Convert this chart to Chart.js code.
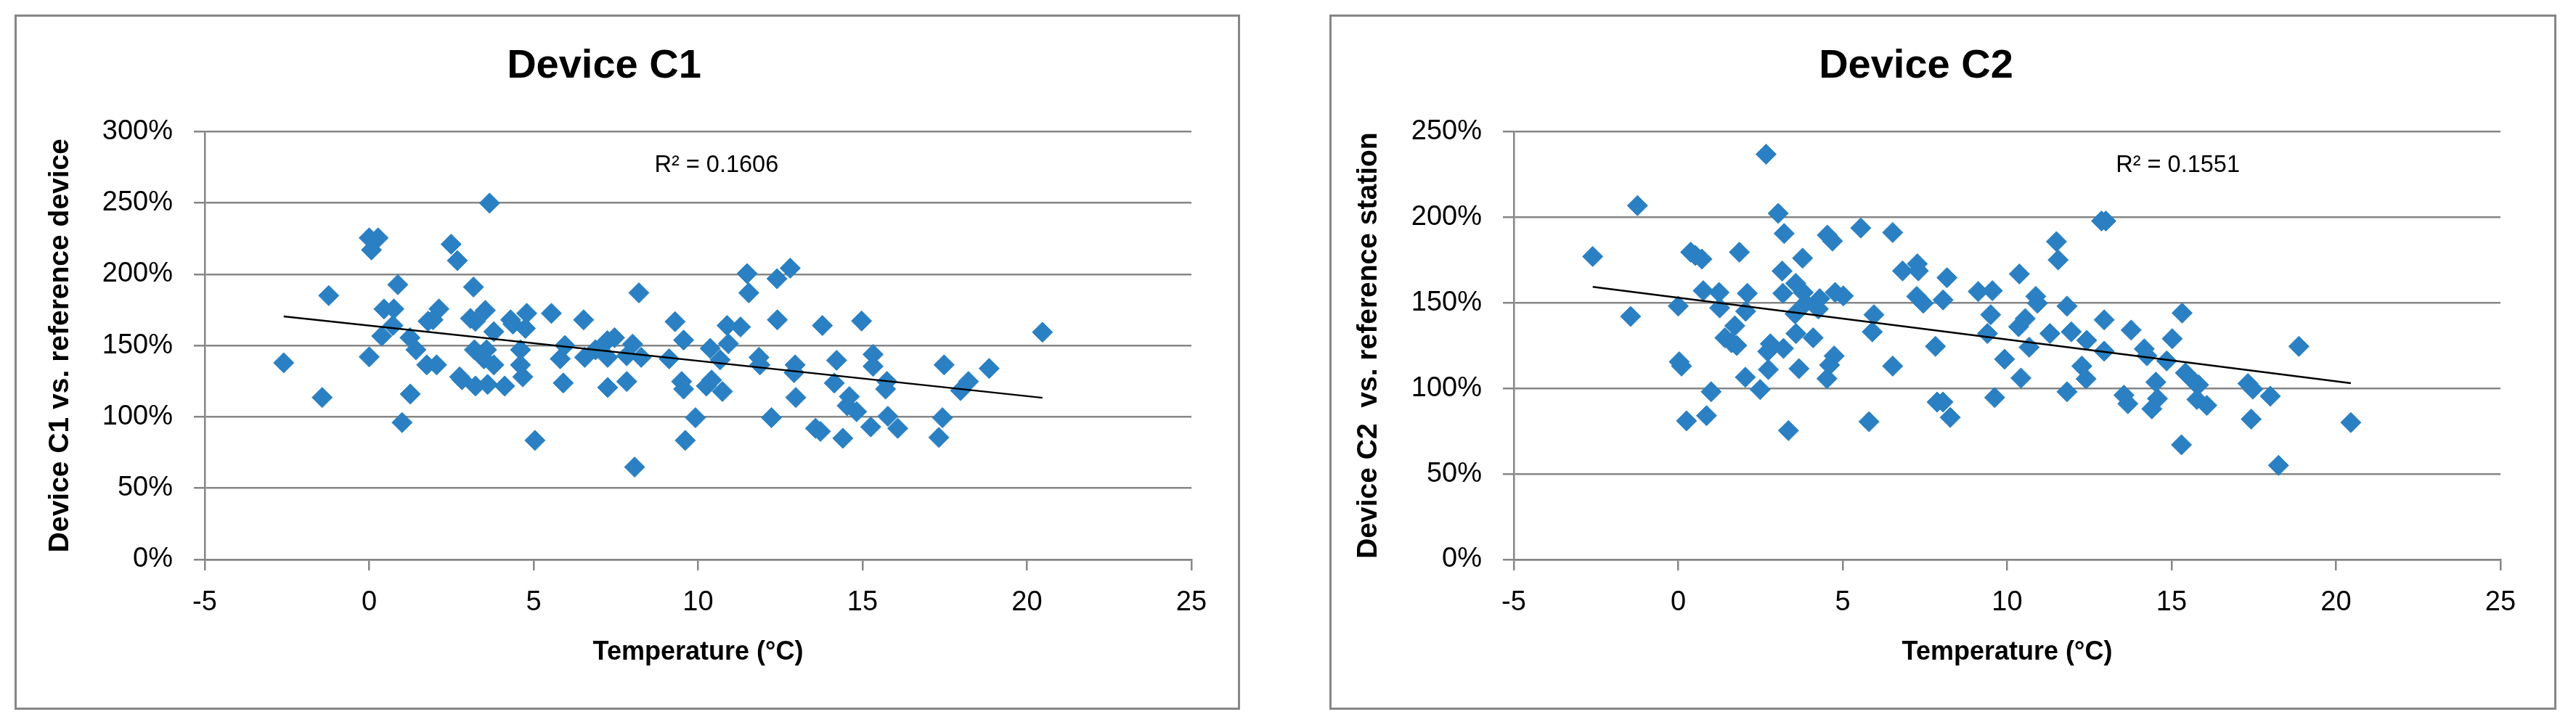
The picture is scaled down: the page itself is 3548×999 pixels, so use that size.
<!DOCTYPE html>
<html>
<head>
<meta charset="utf-8">
<script src="https://cdn.jsdelivr.net/npm/chart.js@4.4.1/dist/chart.umd.min.js"></script>
<style>
html, body { margin: 0; padding: 0; background: #ffffff; }
body { width: 3548px; height: 999px; position: relative; overflow: hidden; }
.frame { position: absolute; border: 3px solid #868686; box-sizing: border-box; background: #fff; }
.frame canvas { position: absolute; left: 0; top: 0; }
</style>
</head>
<body>
<div class="frame" style="left:20px;top:20px;width:1688px;height:958px;"><canvas id="c1" width="1682" height="952"></canvas></div>
<div class="frame" style="left:1831px;top:20px;width:1690px;height:958px;"><canvas id="c2" width="1684" height="952"></canvas></div>
<script>
// ---------------- Data ----------------
const xTicks = [-5, 0, 5, 10, 15, 20, 25];

const c1Title = 'Device C1';
const c1YTitle = 'Device C1 vs. reference device';
const c1R2 = 'R\u00B2 = 0.1606';
const c1Temp = [-2.6, -1.43, -1.23, 0.0, 0.0, 0.27, 0.07, 0.38, 0.45, 0.75,
  0.87, 0.72, 1.0, 1.24, 1.25, 1.42, 1.75, 1.79, 1.94, 2.05,
  2.12, 2.49, 2.68, 2.75, 2.82, 3.08, 3.17, 3.2, 3.23, 3.23,
  3.53, 3.49, 3.66, 3.6, 3.79, 3.79, 4.12, 4.3, 4.37, 4.6,
  4.6, 4.67, 4.75, 4.79, 3.57, 5.04, 5.54, 5.81, 5.9, 5.95,
  6.52, 6.55, 6.88, 7.24, 7.25, 7.46, 7.25, 7.83, 7.83, 8.01,
  8.07, 8.2, 8.27, 9.12, 9.3, 9.5, 9.56, 9.56, 9.61, 9.92,
  10.25, 10.37, 10.41, 10.67, 10.74, 10.88, 10.92, 11.29, 11.49, 11.54,
  11.85, 11.88, 12.23, 12.4, 12.41, 12.8, 12.92, 12.95, 12.97, 13.57,
  13.72, 13.78, 14.14, 14.21, 14.4, 14.53, 14.6, 14.82, 14.97, 15.25,
  15.32, 15.32, 15.7, 15.74, 15.77, 16.07, 17.32, 17.43, 17.48, 17.98,
  18.22, 18.85, 20.47];
const c1Ratio = [137.9, 113.6, 185, 142, 225.4, 225.4, 217, 156.6, 175.6, 175.6,
  192.6, 164, 96, 155.5, 116, 147, 136.4, 167, 168, 136.4,
  175.6, 221, 209.5, 128, 126, 169, 191, 147, 121.6, 167,
  174.6, 140.7, 249.8, 122.7, 136.4, 159.7, 121.6, 168, 165, 147,
  136.4, 128, 162, 172.5, 147, 83.5, 172.5, 140.7, 123.7, 150,
  168, 141.7, 147, 153.4, 141.7, 155.5, 120.6, 124.8, 142.8, 151,
  64.8, 186.9, 141.7, 140.7, 166.7, 124.8, 119.5, 153.8, 83.5, 99.4,
  121.6, 148, 125.8, 140, 117.8, 164, 151.3, 163, 200.4, 186.9,
  141.7, 136.4, 99.4, 196.8, 168, 204.2, 131, 136.4, 113.6, 92,
  89.8, 164, 123.7, 139.6, 85, 107.8, 114.2, 103.6, 167.2, 93,
  143.8, 135.4, 119.5, 124.8, 100.4, 92, 85.6, 99.4, 136.4, 118.4,
  124.8, 133.9, 159.3];
const c1YTicksMax = 300;

const c2Title = 'Device C2';
const c2YTitle = 'Device C2  vs. reference station';
const c2R2 = 'R\u00B2 = 0.1551';
const c2Temp = [-2.6, -1.45, -1.24, 0, 0.03, 0.1, 0.25, 0.38, 0.52, 0.72,
  0.76, 0.86, 1.0, 1.24, 1.26, 1.42, 1.62, 1.72, 1.78, 1.86,
  2.04, 2.05, 2.1, 2.49, 2.67, 2.72, 2.74, 2.8, 3.04, 3.16,
  3.18, 3.22, 3.2, 3.35, 3.55, 3.58, 3.57, 3.67, 3.78, 3.8,
  3.87, 4.1, 4.26, 4.3, 4.53, 4.52, 4.6, 4.69, 4.74, 4.77,
  5.02, 5.55, 5.8, 5.9, 5.95, 6.52, 6.52, 6.82, 7.27, 7.3,
  7.25, 7.45, 7.82, 7.87, 8.05, 8.05, 8.17, 8.27, 9.12, 9.4,
  9.5, 9.55, 9.62, 9.92, 10.35, 10.37, 10.42, 10.55, 10.67, 10.87,
  10.92, 11.3, 11.5, 11.55, 11.82, 11.82, 11.95, 12.27, 12.4, 12.42,
  12.87, 12.95, 13.0, 12.95, 13.55, 13.67, 13.77, 14.17, 14.25, 14.4,
  14.52, 14.57, 14.85, 15.02, 15.3, 15.32, 15.42, 15.7, 15.77, 15.82,
  16.07, 17.32, 17.42, 17.47, 18.0, 18.25, 18.87, 20.45];
const c2Ratio = [177, 142, 206.7, 148, 115.5, 113, 81, 179.5, 177.6, 175.5,
  157, 84, 98, 156, 147, 129.5, 126.6, 136.5, 125, 179.5,
  106.5, 145, 155.5, 99.3, 236.7, 121.5, 111, 126, 202.2, 168.5,
  155.5, 190.4, 123.3, 75.3, 143.5, 132, 161.3, 111.5, 176, 156,
  149.7, 129.5, 146.3, 152.4, 189.5, 105.7, 113.6, 186, 118.9, 156,
  154, 193.6, 80.5, 133, 143, 191, 113, 168.6, 172.7, 168.6,
  153.7, 149.7, 124.5, 92, 92, 151.6, 164.6, 83, 156.5, 132,
  143, 157, 94.6, 117, 136, 166.8, 106, 140.7, 124, 153.7,
  149.7, 132, 185.7, 175, 148, 98, 133, 113, 105.5, 128,
  197.7, 121.7, 197.7, 140, 96, 91, 134, 123, 119, 88,
  103.6, 94, 116, 129, 67, 144, 109, 103.6, 93.5, 102,
  90, 102.8, 82, 99.5, 95.4, 55, 124.5, 80];
const c2YTicksMax = 250;

const xTitle = 'Temperature (\u00B0C)';

// ---------------- Helpers ----------------
function linearFit(xs, ys) {
  const n = xs.length;
  let sx = 0, sy = 0, sxx = 0, sxy = 0;
  for (let i = 0; i < n; i++) { sx += xs[i]; sy += ys[i]; sxx += xs[i] * xs[i]; sxy += xs[i] * ys[i]; }
  const b = (n * sxy - sx * sy) / (n * sxx - sx * sx);
  const a = (sy - b * sx) / n;
  return { a, b };
}

const FONT = "'Liberation Sans', Arial, sans-serif";
const GRID = '#868686';
const BLUE = '#2a80c2';

const r2Plugin = {
  id: 'r2label',
  afterDatasetsDraw(chart, args, opts) {
    const ctx = chart.ctx;
    const x = chart.scales.x.getPixelForValue(opts.xv);
    const y = chart.scales.y.getPixelForValue(opts.yv);
    ctx.save();
    ctx.font = '32.5px ' + FONT;
    ctx.fillStyle = '#000';
    ctx.textAlign = 'center';
    ctx.textBaseline = 'middle';
    ctx.fillText(opts.text, x, y);
    ctx.restore();
  }
};

function makeChart(id, cfg) {
  const pts = cfg.temp.map((t, i) => ({ x: t, y: cfg.ratio[i] }));
  const fit = linearFit(cfg.temp, cfg.ratio);
  const xmin = Math.min(...cfg.temp), xmax = Math.max(...cfg.temp);
  const trend = [{ x: xmin, y: fit.a + fit.b * xmin }, { x: xmax, y: fit.a + fit.b * xmax }];
  return new Chart(document.getElementById(id), {
    type: 'scatter',
    data: {
      datasets: [
        { type: 'line', data: trend, borderColor: '#000', borderWidth: 2.5, pointRadius: 0, fill: false, order: 0 },
        { data: pts, pointStyle: 'rectRot', pointRadius: 14, backgroundColor: BLUE, borderColor: BLUE, borderWidth: 1, order: 1 }
      ]
    },
    options: {
      responsive: false,
      animation: false,
      devicePixelRatio: 1,
      layout: { padding: { left: 0, right: cfg.padRight, top: 0, bottom: 0 } },
      plugins: {
        legend: { display: false },
        tooltip: { enabled: false },
        title: {
          display: true, text: cfg.title, color: '#000',
          font: { family: FONT, size: 56, weight: 'bold' },
          padding: { top: 35, bottom: 56 }
        },
        r2label: { text: cfg.r2, xv: cfg.r2x, yv: cfg.r2y }
      },
      scales: {
        x: {
          type: 'linear', min: -5, max: 25,
          afterBuildTicks: s => { s.ticks = xTicks.map(v => ({ value: v })); },
          ticks: { color: '#000', font: { family: FONT, size: 38 }, padding: 22 },
          grid: { drawOnChartArea: false, drawTicks: true, tickLength: 15, color: GRID, lineWidth: 2.5 },
          border: { display: true, color: GRID, width: 2.5 },
          title: { display: true, text: xTitle, color: '#000', font: { family: FONT, size: 36, weight: 'bold' }, padding: { top: 0, bottom: 54 } },
          afterFit: s => { s.height = cfg.xH; }
        },
        y: {
          type: 'linear', min: 0, max: cfg.ymax,
          ticks: { stepSize: 50, color: '#000', font: { family: FONT, size: 38 }, padding: 29, callback: v => v + '%' },
          grid: { drawTicks: true, tickLength: 15, color: GRID, lineWidth: 2.5 },
          border: { display: true, color: GRID, width: 2.5 },
          title: { display: true, text: cfg.ytitle, color: '#000', font: { family: FONT, size: 39, weight: 'bold' }, padding: { top: cfg.yTitlePad, bottom: 0 } },
          afterFit: s => { s.width = cfg.yW; }
        }
      }
    },
    plugins: [r2Plugin]
  });
}

makeChart('c1', { temp: c1Temp, ratio: c1Ratio, title: c1Title, ytitle: c1YTitle, r2: c1R2, r2x: 10.56, r2y: 276,
  ymax: c1YTicksMax, padRight: 64, xH: 204, yW: 259, yTitlePad: 37 });
makeChart('c2', { temp: c2Temp, ratio: c2Ratio, title: c2Title, ytitle: c2YTitle, r2: c2R2, r2x: 15.19, r2y: 230,
  ymax: c2YTicksMax, padRight: 74, xH: 204, yW: 251, yTitlePad: 28 });
</script>
</body>
</html>
